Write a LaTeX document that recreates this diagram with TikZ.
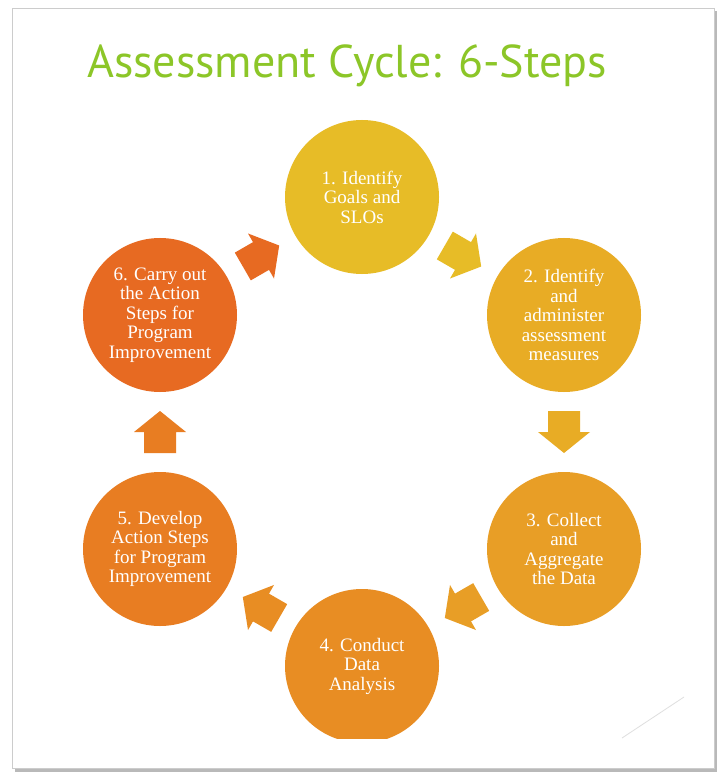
\documentclass[tikz,border=0pt]{standalone}
\usepackage{fontspec}
\usepackage{xcolor}
\usepackage{tikz}
\usetikzlibrary{calc}
\setmainfont{Liberation Serif}
\newfontfamily\titlefont{PT Sans}
\definecolor{step1}{RGB}{231,188,39}
\definecolor{step2}{RGB}{232,172,37}
\definecolor{step3}{RGB}{232,158,38}
\definecolor{step4}{RGB}{232,141,35}
\definecolor{step5}{RGB}{232,125,34}
\definecolor{step6}{RGB}{231,106,34}
\definecolor{titlegreen}{RGB}{140,198,40}

\tikzset{
  stepdisc/.style={circle, minimum size=154pt, inner sep=0pt, align=center, text=white,
    font=\fontsize{19}{19.5}\selectfont},
  pics/cyclearrow/.style={code={
    \fill[#1] (-21,-16) -- (0,-16) -- (0,-26) -- (21,0) -- (0,26) -- (0,16) -- (-21,16) -- cycle;}}
}

\begin{document}
\begin{tikzpicture}[x=1pt, y=-1pt]
\useasboundingbox (0,0) rectangle (726,783);

% Slide
\fill[gray!55] (15,11) rectangle (717,772);
\filldraw[fill=white, draw=gray!40, line width=0.8pt] (12,8) rectangle (714,768);
\coordinate (m1) at (622,738);
\coordinate (m2) at (684,697);
\draw[gray!25, line width=0.8pt] (m1) -- (m2);

% Title
\node[font=\titlefont\fontsize{46}{50}\selectfont, text=titlegreen, anchor=base] (title) at (347,78) {Assessment Cycle: 6-Steps};

% Circles
\node[stepdisc, fill=step1] (s1) at (362,197) {1. Identify\\Goals and\\SLOs};
\node[stepdisc, fill=step2] (s2) at (564,315) {2. Identify\\and\\administer\\assessment\\measures};
\node[stepdisc, fill=step3] (s3) at (564,549) {3. Collect\\and\\Aggregate\\the Data};
\begin{scope}
\clip (0,0) rectangle (726,738);
\node[stepdisc, fill=step4] (s4) at (362,666) {4. Conduct\\Data\\Analysis};
\end{scope}
\node[stepdisc, fill=step5] (s5) at (160,549) {5. Develop\\Action Steps\\for Program\\Improvement};
\node[stepdisc, fill=step6] (s6) at (160,315) {6. Carry out\\the Action\\Steps for\\Program\\Improvement};

% Arrows
\pic[rotate=-30] at ($(s1)!0.5!(s2)$) {cyclearrow=step1};
\pic[rotate=-90] at ($(s2)!0.5!(s3)$) {cyclearrow=step2};
\pic[rotate=-150] at ($(s3)!0.5!(s4)$) {cyclearrow=step3};
\pic[rotate=150] at ($(s4)!0.5!(s5)$) {cyclearrow=step4};
\pic[rotate=90] at ($(s5)!0.5!(s6)$) {cyclearrow=step5};
\pic[rotate=30] at ($(s6)!0.5!(s1)$) {cyclearrow=step6};
\end{tikzpicture}
\end{document}
